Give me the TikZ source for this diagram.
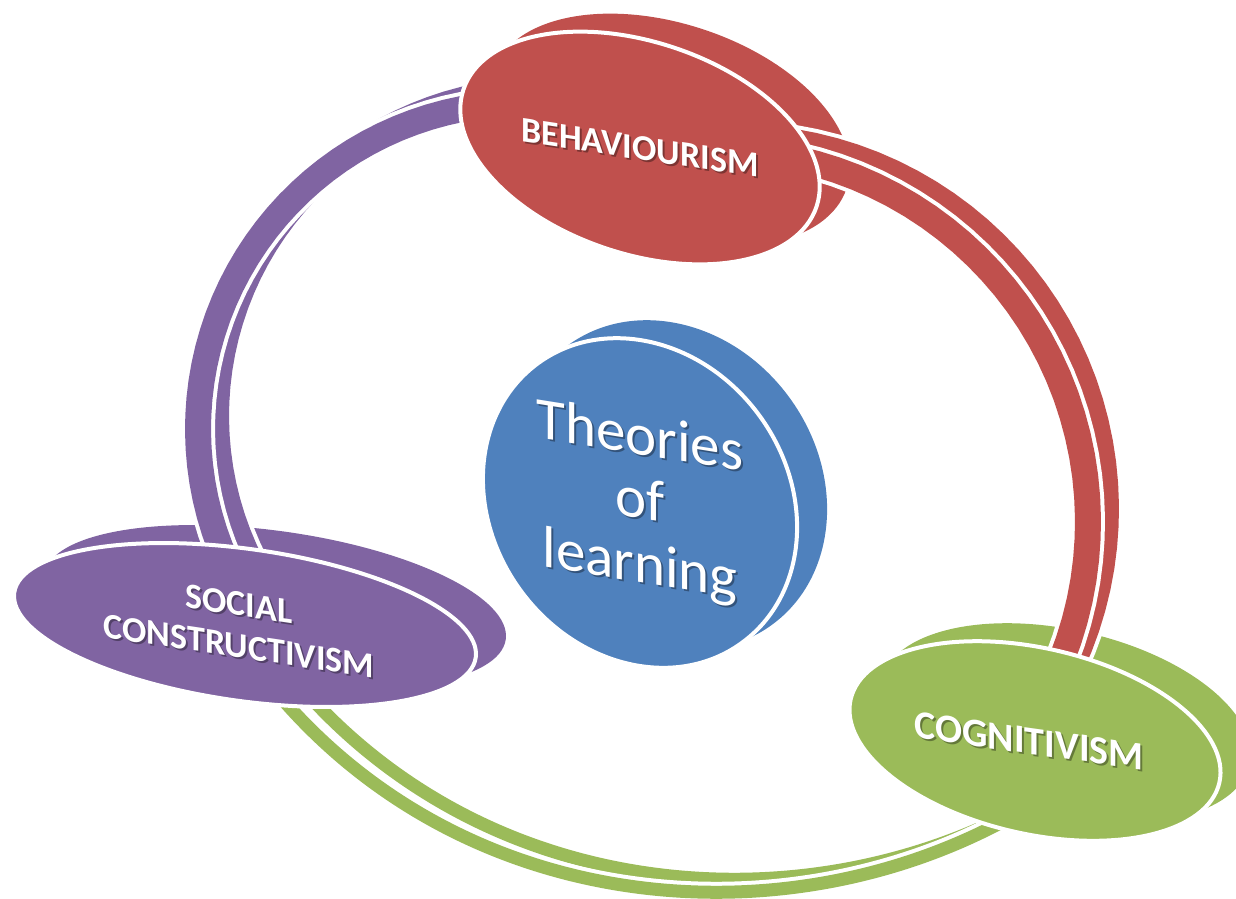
\documentclass[tikz,border=0pt]{standalone}
\usepackage{fontspec}
\setmainfont{Carlito}
\usetikzlibrary{shapes.geometric}

\definecolor{behred}{HTML}{C0504D}
\definecolor{cogngreen}{HTML}{9BBB59}
\definecolor{socpurple}{HTML}{8064A2}
\definecolor{theoblue}{HTML}{4F81BD}

\pgfdeclarelayer{discback}
\pgfdeclarelayer{ring}
\pgfsetlayers{discback,ring,main}

\begin{document}
\begin{tikzpicture}[x=1pt, y=-1pt,
	disc/.style={ellipse, inner sep=0pt, fill=#1},
	rim/.style={draw=white, line width=4pt},
	backface/.style={xshift=30pt, yshift=18pt},
	band/.style={white, line width=4pt, double=#1},
	lift/.style={transform canvas={shift={(18,-13)}}},
	lbltext/.style={text=white, align=center, inner sep=0pt, font=\bfseries\fontsize{36}{43}\selectfont},
	dropshade/.style={text=black, opacity=.35, xshift=2pt, yshift=-2pt}]
	\useasboundingbox (0,0) rectangle (1236,898);

	\node[disc=behred, rim, rotate=-18.3, minimum width=372pt, minimum height=212pt] (beh) at (640,148) {};
	\node[disc=theoblue, rim, rotate=-54, minimum width=346pt, minimum height=296pt] (theo) at (640,503) {};
	\node[disc=socpurple, rim, rotate=-8, minimum width=466pt, minimum height=152pt] (soc) at (245,625) {};
	\node[disc=cogngreen, rim, rotate=-12.7, minimum width=378pt, minimum height=186pt] (cog) at (1035,741) {};

	\begin{pgfonlayer}{discback}
	\node[disc=behred, backface, rotate=-18.3, minimum width=372pt, minimum height=212pt] (behback) at (beh) {};
	\node[disc=theoblue, backface, rotate=-54, minimum width=346pt, minimum height=296pt] (theoback) at (theo) {};
	\node[disc=socpurple, backface, rotate=-8, minimum width=466pt, minimum height=152pt] (socback) at (soc) {};
	\node[disc=cogngreen, backface, rotate=-12.7, minimum width=378pt, minimum height=186pt] (cogback) at (cog) {};
	\end{pgfonlayer}

	\begin{pgfonlayer}{ring}
	% side of the ring first, then its face
	\draw[band=socpurple, double distance=26pt, lift] (soc.center) -- plot[domain=150:265, samples=40] ({524+326*cos(\x)},{429+326*sin(\x)}) -- (beh.center);
	\draw[band=behred, double distance=26pt, lift] (beh.center) -- plot[domain=-100:25, samples=40] ({716+372*cos(\x)},{522+372*sin(\x)}) -- (cog.center);
	\draw[band=cogngreen, double distance=13pt, lift] (soc.center) -- (268,682) .. controls (460,920) and (790,945) .. (1020,812) -- (cog.center);
	\draw[band=socpurple, double distance=26pt] (soc.center) -- plot[domain=150:265, samples=40] ({524+326*cos(\x)},{429+326*sin(\x)}) -- (beh.center);
	\draw[band=behred, double distance=26pt] (beh.center) -- plot[domain=-100:25, samples=40] ({716+372*cos(\x)},{522+372*sin(\x)}) -- (cog.center);
	\draw[band=cogngreen, double distance=13pt] (soc.center) -- (268,682) .. controls (460,920) and (790,945) .. (1020,812) -- (cog.center);
	\end{pgfonlayer}

	\node[lbltext, dropshade, yslant=-.15] at (beh) {BEHAVIOURISM};
	\node[lbltext, yslant=-.15] (behlabel) at (beh) {BEHAVIOURISM};
	\node[lbltext, dropshade, yslant=-.16, font=\fontsize{59}{64}\selectfont] at (theo) {Theories\\of\\learning};
	\node[lbltext, yslant=-.16, font=\fontsize{59}{64}\selectfont] (theolabel) at (theo) {Theories\\of\\learning};
	\node[lbltext, dropshade, yslant=-.15, font=\bfseries\fontsize{36}{42}\selectfont] at ([xshift=-6pt]soc.center) {SOCIAL\\CONSTRUCTIVISM};
	\node[lbltext, yslant=-.15, font=\bfseries\fontsize{36}{42}\selectfont] (soclabel) at ([xshift=-6pt]soc.center) {SOCIAL\\CONSTRUCTIVISM};
	\node[lbltext, dropshade, yslant=-.14, font=\bfseries\fontsize{40}{46}\selectfont] at ([xshift=-6pt]cog.center) {COGNITIVISM};
	\node[lbltext, yslant=-.14, font=\bfseries\fontsize{40}{46}\selectfont] (coglabel) at ([xshift=-6pt]cog.center) {COGNITIVISM};
\end{tikzpicture}
\end{document}
